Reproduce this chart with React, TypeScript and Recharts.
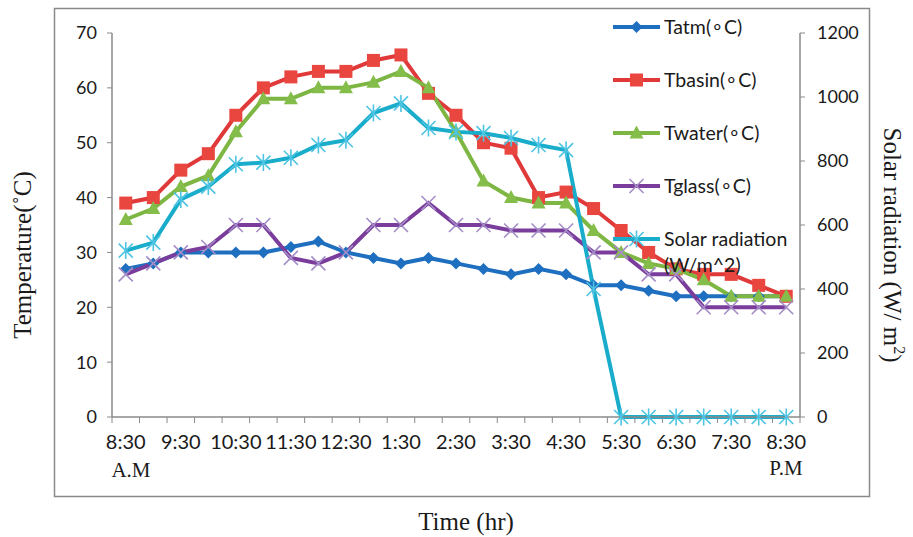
import React from 'react';
import { LineChart, Line, XAxis, YAxis } from 'recharts';

// Half-hourly readings from 8:30 A.M to 8:30 P.M
const timeSlots = [
  '8:30', '9:00', '9:30', '10:00', '10:30', '11:00', '11:30', '12:00', '12:30',
  '1:00', '1:30', '2:00', '2:30', '3:00', '3:30', '4:00', '4:30', '5:00', '5:30',
  '6:00', '6:30', '7:00', '7:30', '8:00', '8:30',
];
// Hourly labels shown under every second slot
const tickLabels = [
  '8:30', '9:30', '10:30', '11:30', '12:30', '1:30', '2:30', '3:30', '4:30',
  '5:30', '6:30', '7:30', '8:30',
];
const tempTicks = [0, 10, 20, 30, 40, 50, 60, 70];
const solarTicks = [0, 200, 400, 600, 800, 1000, 1200];

const tatm = [27, 28, 30, 30, 30, 30, 31, 32, 30, 29, 28, 29, 28, 27, 26, 27, 26, 24, 24, 23, 22, 22, 22, 22, 22];
const tbasin = [39, 40, 45, 48, 55, 60, 62, 63, 63, 65, 66, 59, 55, 50, 49, 40, 41, 38, 34, 30, 27, 26, 26, 24, 22];
const twater = [36, 38, 42, 44, 52, 58, 58, 60, 60, 61, 63, 60, 52, 43, 40, 39, 39, 34, 30, 28, 27, 25, 22, 22, 22];
const tglass = [26, 28, 30, 31, 35, 35, 29, 28, 30, 35, 35, 39, 35, 35, 34, 34, 34, 30, 30, 26, 26, 20, 20, 20, 20];
const solar = [520, 545, 680, 720, 790, 795, 810, 850, 865, 950, 980, 903, 891, 887, 872, 850, 834, 400, 0, 0, 0, 0, 0, 0, 0];

const data = timeSlots.map((slot, i) => ({
  idx: i,
  slot,
  tatm: tatm[i],
  tbasin: tbasin[i],
  twater: twater[i],
  tglass: tglass[i],
  solar: solar[i],
}));

// Category boundaries (tick marks) plus slot centres (labels)
const xTicks = timeSlots
  .flatMap((_, i) => [i - 0.5, i])
  .concat(timeSlots.length - 0.5);

const AXIS = '#8a8a8a';
const TEXT = '#1a1a1a';
const SANS = 'Lato, "Open Sans", sans-serif';
const SERIF = '"Liberation Serif", "DejaVu Serif", serif';

type Shape = (cx: number, cy: number, key?: string) => React.ReactElement;

const diamond = (color: string): Shape => (cx, cy, key) => (
  <path key={key} d={`M${cx},${cy - 6}L${cx + 6},${cy}L${cx},${cy + 6}L${cx - 6},${cy}Z`} fill={color} />
);
const square = (color: string): Shape => (cx, cy, key) => (
  <rect key={key} x={cx - 6.5} y={cy - 6.5} width={13} height={13} fill={color} />
);
const triangle = (color: string): Shape => (cx, cy, key) => (
  <path key={key} d={`M${cx},${cy - 7.5}L${cx + 7},${cy + 5.5}L${cx - 7},${cy + 5.5}Z`} fill={color} />
);
const cross = (color: string): Shape => (cx, cy, key) => (
  <path key={key} d={`M${cx - 7},${cy - 7}L${cx + 7},${cy + 7}M${cx - 7},${cy + 7}L${cx + 7},${cy - 7}`} stroke={color} strokeWidth={1.6} fill="none" />
);
const asterisk = (color: string): Shape => (cx, cy, key) => (
  <path key={key} d={`M${cx - 7},${cy - 7}L${cx + 7},${cy + 7}M${cx - 7},${cy + 7}L${cx + 7},${cy - 7}M${cx},${cy - 8.5}L${cx},${cy + 8.5}`} stroke={color} strokeWidth={1.6} fill="none" />
);

const series = [
  { key: 'tatm', name: 'Tatm(\u2218C)', color: '#1f6fc0', marker: diamond('#1f6fc0'), axis: 'left' },
  { key: 'tbasin', name: 'Tbasin(\u2218C)', color: '#e0393a', marker: square('#e8463f'), axis: 'left' },
  { key: 'twater', name: 'Twater(\u2218C)', color: '#7db642', marker: triangle('#84bd4a'), axis: 'left' },
  { key: 'tglass', name: 'Tglass(\u2218C)', color: '#7a3d9b', marker: cross('#a48cc8'), axis: 'left' },
  { key: 'solar', name: 'Solar radiation', name2: '(W/m^2)', color: '#1aaccb', marker: asterisk('#4cc4e2'), axis: 'right' },
];

const XTick = (props: any) => {
  const { x, y, payload } = props;
  const v = payload.value as number;
  if (Number.isInteger(v)) {
    if (v % 2 !== 0) return <g />;
    return (
      <text x={x} y={y + 32} textAnchor="middle" fontFamily={SANS} fontSize={20} fill={TEXT}>
        {tickLabels[v / 2]}
      </text>
    );
  }
  return <line x1={x} y1={y} x2={x} y2={y + 6} stroke={AXIS} strokeWidth={1} />;
};

const legendRows = [27, 80, 133, 186, 239];

export default function App() {
  return (
    <div style={{ position: 'absolute', left: 0, top: 0, width: 913, height: 537, background: '#fff' }}>
      <LineChart
        width={913}
        height={537}
        data={data}
        margin={{ top: 33, right: 53, bottom: 80, left: 52 }}
      >
        <XAxis
          dataKey="idx"
          type="number"
          domain={[-0.5, 24.5]}
          ticks={xTicks}
          interval={0}
          tickLine={false}
          tickSize={0}
          tickMargin={0}
          tick={<XTick />}
          axisLine={{ stroke: AXIS, strokeWidth: 1.5 }}
          height={40}
        />
        <YAxis
          yAxisId="left"
          domain={[0, 70]}
          ticks={tempTicks}
          interval={0}
          width={60}
          tickSize={5}
          tickMargin={10}
          axisLine={{ stroke: AXIS, strokeWidth: 1.5 }}
          tickLine={{ stroke: AXIS }}
          tick={{ fontFamily: SANS, fontSize: 18, fill: TEXT }}
        />
        <YAxis
          yAxisId="right"
          orientation="right"
          domain={[0, 1200]}
          ticks={solarTicks}
          interval={0}
          width={60}
          tickSize={5}
          tickMargin={12}
          axisLine={{ stroke: AXIS, strokeWidth: 1.5 }}
          tickLine={{ stroke: AXIS }}
          tick={{ fontFamily: SANS, fontSize: 18, fill: TEXT }}
        />
        {series.map((s) => (
          <Line
            key={s.key}
            yAxisId={s.axis}
            dataKey={s.key}
            name={s.name}
            stroke={s.color}
            strokeWidth={4}
            isAnimationActive={false}
            activeDot={false}
            dot={(p: any) => s.marker(p.cx, p.cy, `${s.key}-${p.index}`)}
          />
        ))}
      </LineChart>

      <svg
        width={913}
        height={537}
        style={{ position: 'absolute', left: 0, top: 0, pointerEvents: 'none' }}
      >
        <rect x={54.5} y={8.5} width={815} height={488} fill="none" stroke={AXIS} strokeWidth={1.5} />

        {series.map((s, i) => {
          const y = legendRows[i];
          return (
            <g key={s.key}>
              <line x1={613} y1={y} x2={660} y2={y} stroke={s.color} strokeWidth={4} />
              {s.marker(636.5, y)}
              <text x={664} y={y + 7} fontFamily={SANS} fontSize={19.5} fill={TEXT}>{s.name}</text>
              {s.name2 && (
                <text x={664} y={y + 33} fontFamily={SANS} fontSize={19.5} fill={TEXT}>{s.name2}</text>
              )}
            </g>
          );
        })}

        <text
          transform="translate(31,255) rotate(-90)"
          textAnchor="middle"
          fontFamily={SERIF}
          fontSize={25}
          fill={TEXT}
        >
          Temperature(˚C)
        </text>
        <text
          transform="translate(884,245) rotate(90)"
          textAnchor="middle"
          fontFamily={SERIF}
          fontSize={25}
          fill={TEXT}
        >
          Solar radiation (W/ m<tspan dy={-10} fontSize={16}>2</tspan><tspan dy={10}>)</tspan>
        </text>
        <text x={466} y={530} textAnchor="middle" fontFamily={SERIF} fontSize={25} fill={TEXT}>
          Time (hr)
        </text>
        <text x={131} y={477} textAnchor="middle" fontFamily={SERIF} fontSize={21} fill={TEXT}>A.M</text>
        <text x={786} y={475} textAnchor="middle" fontFamily={SERIF} fontSize={21} fill={TEXT}>P.M</text>
      </svg>
    </div>
  );
}
